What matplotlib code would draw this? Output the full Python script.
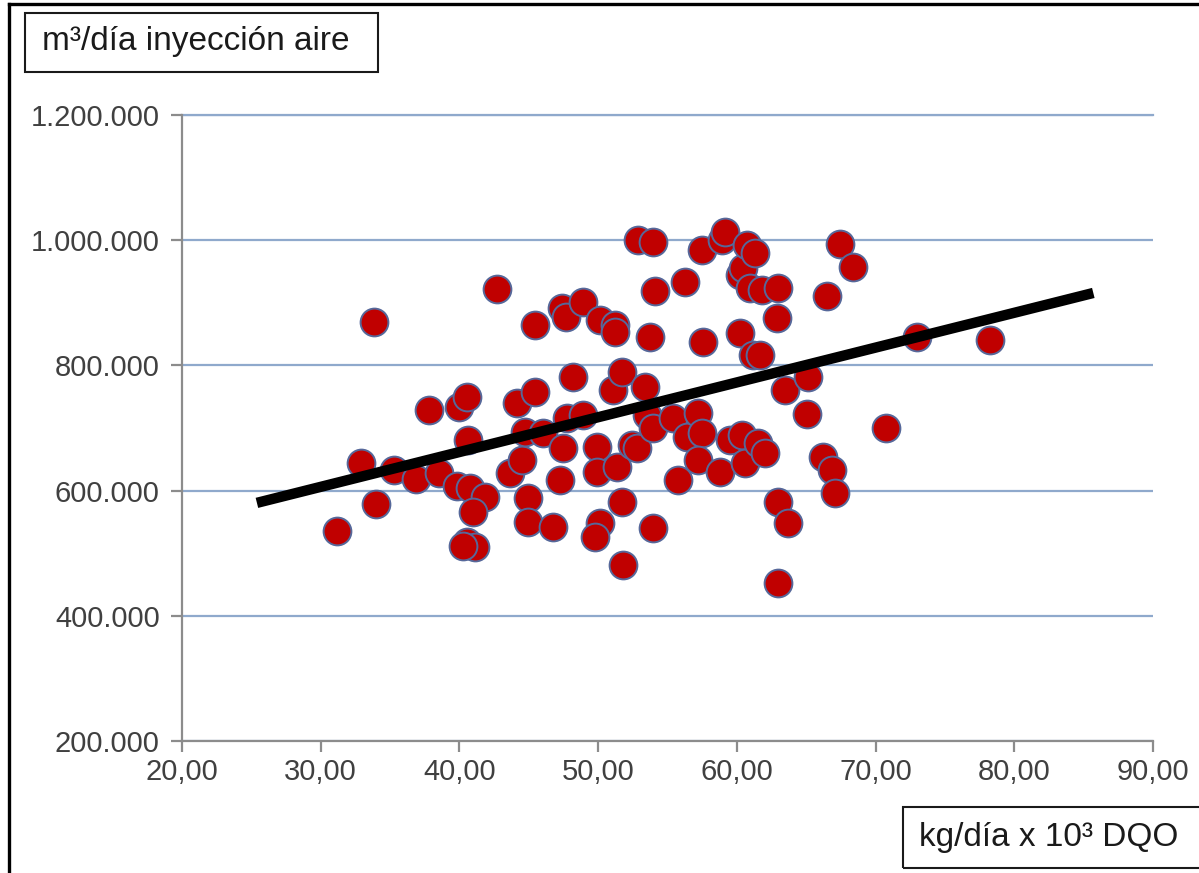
import numpy as np
import matplotlib
matplotlib.use("Agg")
import matplotlib.pyplot as plt
from matplotlib.ticker import FuncFormatter, MultipleLocator
from matplotlib.patches import Rectangle
from matplotlib.lines import Line2D

plt.rcParams['font.family'] = ['Liberation Sans', 'DejaVu Sans']

# kg/dia x 10^3 DQO
dqo = [31.18, 32.91, 33.84, 33.99, 35.28, 36.87, 37.81, 38.53, 39.83, 39.97,
       40.55, 40.62, 40.76, 41.85, 40.98, 40.55, 41.12, 40.26, 42.71, 43.65,
       44.51, 44.15, 45.45, 44.73, 46.03, 44.95, 44.95, 45.45, 46.75, 47.25,
       47.47, 47.40, 47.69, 47.76, 48.91, 48.19, 48.91, 49.92, 49.92, 50.14,
       49.78, 50.14, 51.22, 51.22, 51.07, 51.72, 51.36, 51.72, 51.80, 52.44,
       52.80, 52.88, 53.96, 53.74, 53.38, 53.53, 53.96, 53.96, 54.10, 55.40,
       55.76, 56.27, 56.41, 57.20, 57.49, 57.20, 57.49, 57.56, 58.79, 58.93,
       59.15, 59.51, 60.37, 60.59, 60.23, 60.45, 60.23, 60.74, 61.31, 60.95,
       61.82, 62.97, 62.90, 61.17, 61.67, 61.53, 62.03, 63.48, 62.97, 63.69,
       62.97, 65.13, 65.06, 66.21, 66.86, 67.08, 66.50, 67.44, 68.38, 70.76,
       72.99, 78.25]
# m3/dia inyeccion aire (miles)
aire_k = [535.6, 644.2, 869.4, 578.8, 633.1, 618.7, 728.9, 628.3, 607.5, 733.7,
          749.6, 681.0, 604.3, 589.9, 566.0, 518.1, 510.1, 511.7, 922.1, 628.3,
          649.0, 740.1, 757.6, 693.8, 692.1, 588.3, 550.0, 864.6, 542.0, 617.1,
          668.2, 891.8, 877.4, 716.1, 720.9, 781.6, 901.4, 669.8, 629.9, 548.4,
          526.1, 872.6, 864.6, 853.4, 760.8, 789.6, 637.9, 581.9, 481.3, 673.0,
          668.2, 1000.4, 997.2, 845.5, 765.6, 720.9, 700.1, 540.4, 918.9, 716.1,
          617.1, 933.3, 685.8, 724.1, 692.2, 649.0, 984.4, 837.5, 629.9, 1000.4,
          1013.2, 681.0, 689.0, 644.2, 944.5, 955.7, 851.9, 992.4, 979.6, 923.7,
          920.5, 923.7, 875.8, 816.7, 816.7, 676.2, 660.2, 760.8, 581.9, 548.4,
          452.6, 781.6, 722.5, 653.8, 633.1, 596.3, 910.9, 994.0, 957.3, 700.1,
          845.5, 840.7]
aire = np.array(aire_k) * 1000

trend_x = [25.4, 85.7]
trend_y = [580400, 915700]

fig = plt.figure(figsize=(11.99, 8.73), dpi=100)
ax = fig.add_axes([0.1518, 0.1512, 0.8098, 0.7171])

grid_c = '#8FA9CC'
axis_c = '#8C8C8C'

ax.set_xlim(20, 90)
ax.set_ylim(200000, 1200000)
ax.xaxis.set_major_locator(MultipleLocator(10))
ax.yaxis.set_major_locator(MultipleLocator(200000))
ax.yaxis.grid(True, color=grid_c, linewidth=1.6, zorder=0)
ax.axhline(1200000, color=grid_c, linewidth=1.6, clip_on=False, zorder=0)
ax.set_axisbelow(True)

ax.scatter(dqo, aire, s=400, facecolor='#C00000', edgecolor='#56689A',
           linewidth=1.4, zorder=3)
ax.plot(trend_x, trend_y, color='black', linewidth=7.5, solid_capstyle='butt', zorder=4)

for s in ['top', 'right']:
    ax.spines[s].set_visible(False)
for s in ['left', 'bottom']:
    ax.spines[s].set_color(axis_c)
    ax.spines[s].set_linewidth(1.6)

ax.tick_params(axis='both', direction='out', length=8, width=1.6, color=axis_c,
               labelsize=21, labelcolor='#404040')
ax.tick_params(axis='x', pad=4)
ax.tick_params(axis='y', pad=8)
ax.yaxis.set_major_formatter(FuncFormatter(lambda v, p: f"{int(v):,}".replace(',', '.')))
ax.xaxis.set_major_formatter(FuncFormatter(lambda v, p: f"{v:.2f}".replace('.', ',')))

# outer frame (left and top edges)
fig.add_artist(Line2D([0.0075, 0.0075], [0.0, 0.9954], color='black', linewidth=2.4,
                      transform=fig.transFigure))
fig.add_artist(Line2D([0.0075, 1.0], [0.9954, 0.9954], color='black', linewidth=2.4,
                      transform=fig.transFigure))

# y label box
fig.add_artist(Rectangle((0.0209, 0.9175), 0.2944, 0.0676, transform=fig.transFigure,
                         fill=False, edgecolor='#1A1A1A', linewidth=1.5))
fig.text(0.035, 0.9519, "m³/día inyección aire", fontsize=24, color='#1A1A1A',
         ha='left', va='center')

# x label box
fig.add_artist(Rectangle((0.7531, 0.0057), 0.3, 0.0699, transform=fig.transFigure,
                         fill=False, edgecolor='#1A1A1A', linewidth=1.5))
fig.text(0.7665, 0.0401, "kg/día x 10³ DQO", fontsize=24, color='#1A1A1A',
         ha='left', va='center')

fig.savefig("out.png", dpi=100)
